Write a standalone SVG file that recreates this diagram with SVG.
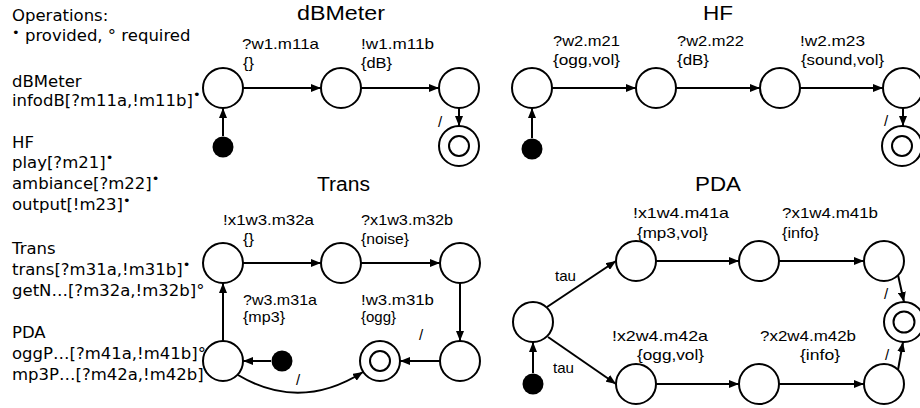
<svg xmlns="http://www.w3.org/2000/svg" width="920" height="408" viewBox="0 0 920 408">
  <style>
    .st { fill: #fff; stroke: #000; stroke-width: 2; }
    .init { fill: #000; stroke: none; }
    .edge { fill: none; stroke: #000; stroke-width: 2; marker-end: url(#arr); }
    .lbl { font-family: "Liberation Sans", Arial, sans-serif; font-size: 15px; fill: #000; }
    .title { font-family: "Liberation Sans", Arial, sans-serif; font-size: 20px; fill: #000; }
    .side { font-family: "DejaVu Sans", sans-serif; font-size: 16.5px; fill: #000; }
    .dot { font-size: 13px; }
  </style>
  <defs>
    <marker id="arr" markerUnits="userSpaceOnUse" markerWidth="10" markerHeight="8" refX="10" refY="4" orient="auto">
      <path d="M0,0 L10,4 L0,8 z" fill="#000"/>
    </marker>
  </defs>
  <rect width="920" height="408" fill="#fff"/>

  <!-- legend of operations per component -->
  <g id="legend" class="side">
    <text x="12" y="21">Operations:</text>
    <text x="12" y="41"><tspan class="dot" dy="-4">•</tspan><tspan dy="4"> provided, ° required</tspan></text>
    <text x="12" y="87">dBMeter</text>
    <text x="12" y="106">infodB[?m11a,!m11b]<tspan class="dot" dy="-7">•</tspan></text>
    <text x="12" y="148">HF</text>
    <text x="12" y="168">play[?m21]<tspan class="dot" dy="-6">•</tspan></text>
    <text x="12" y="189">ambiance[?m22]<tspan class="dot" dy="-6">•</tspan></text>
    <text x="12" y="210">output[!m23]<tspan class="dot" dy="-5">•</tspan></text>
    <text x="12" y="254">Trans</text>
    <text x="12" y="275">trans[?m31a,!m31b]<tspan class="dot" dy="-6">•</tspan></text>
    <text x="12" y="296">getN…[?m32a,!m32b]°</text>
    <text x="12" y="338">PDA</text>
    <text x="12" y="359">oggP…[?m41a,!m41b]°</text>
    <text x="12" y="380">mp3P…[?m42a,!m42b]°</text>
  </g>

  <!-- automaton titles -->
  <g id="titles" class="title">
    <text x="297" y="20" textLength="88" lengthAdjust="spacingAndGlyphs">dBMeter</text>
    <text x="703" y="20" textLength="30" lengthAdjust="spacingAndGlyphs">HF</text>
    <text x="317" y="191" textLength="53" lengthAdjust="spacingAndGlyphs">Trans</text>
    <text x="695" y="191" textLength="46" lengthAdjust="spacingAndGlyphs">PDA</text>
  </g>

  <!-- dBMeter states -->
  <g id="dbm-init"><circle class="init" cx="223" cy="147" r="10.5"/></g>
  <g id="dbm-s1"><circle class="st" cx="223" cy="88" r="20"/></g>
  <g id="dbm-s2"><circle class="st" cx="341" cy="88" r="20"/></g>
  <g id="dbm-s3"><circle class="st" cx="459" cy="88" r="20"/></g>
  <g id="dbm-final"><circle class="st" cx="459" cy="146" r="20"/><circle class="st" cx="459" cy="146" r="10"/></g>

  <!-- HF states -->
  <g id="hf-init"><circle class="init" cx="532" cy="149" r="10.5"/></g>
  <g id="hf-s1"><circle class="st" cx="532" cy="88" r="20"/></g>
  <g id="hf-s2"><circle class="st" cx="656" cy="88" r="20"/></g>
  <g id="hf-s3"><circle class="st" cx="780" cy="88" r="20"/></g>
  <g id="hf-s4"><circle class="st" cx="903" cy="88" r="20"/></g>
  <g id="hf-final"><circle class="st" cx="902" cy="146" r="20"/><circle class="st" cx="902" cy="146" r="10"/></g>

  <!-- Trans states -->
  <g id="tr-init"><circle class="init" cx="282" cy="361" r="10.5"/></g>
  <g id="tr-s0"><circle class="st" cx="223" cy="361" r="20"/></g>
  <g id="tr-s1"><circle class="st" cx="223" cy="263" r="20"/></g>
  <g id="tr-s2"><circle class="st" cx="341" cy="263" r="20"/></g>
  <g id="tr-s3"><circle class="st" cx="460" cy="263" r="20"/></g>
  <g id="tr-s4"><circle class="st" cx="460" cy="361" r="20"/></g>
  <g id="tr-final"><circle class="st" cx="380" cy="361" r="20"/><circle class="st" cx="380" cy="361" r="10"/></g>

  <!-- PDA states -->
  <g id="pda-init"><circle class="init" cx="533" cy="384" r="10.5"/></g>
  <g id="pda-s0"><circle class="st" cx="533" cy="322" r="20"/></g>
  <g id="pda-p1"><circle class="st" cx="636" cy="261" r="20"/></g>
  <g id="pda-p2"><circle class="st" cx="759" cy="261" r="20"/></g>
  <g id="pda-p3"><circle class="st" cx="884" cy="261" r="20"/></g>
  <g id="pda-q1"><circle class="st" cx="636" cy="384" r="20"/></g>
  <g id="pda-q2"><circle class="st" cx="759" cy="384" r="20"/></g>
  <g id="pda-q3"><circle class="st" cx="884" cy="384" r="20"/></g>
  <g id="pda-final"><circle class="st" cx="904" cy="322" r="20"/><circle class="st" cx="904" cy="322" r="10.5"/></g>

  <!-- transitions -->
  <g id="connectors">
    <path class="edge" d="M223,136 V108"/>
    <path class="edge" d="M243,88 H321"/>
    <path class="edge" d="M361,88 H439"/>
    <path class="edge" d="M459,108 V126"/>

    <path class="edge" d="M532,138 V108"/>
    <path class="edge" d="M552,88 H636"/>
    <path class="edge" d="M676,88 H760"/>
    <path class="edge" d="M800,88 H883"/>
    <path class="edge" d="M903,108 V126"/>

    <path class="edge" d="M271,361 H243"/>
    <path class="edge" d="M223,341 V283"/>
    <path class="edge" d="M243,263 H321"/>
    <path class="edge" d="M361,263 H440"/>
    <path class="edge" d="M460,283 V341"/>
    <path class="edge" d="M440,361 H400"/>
    <path class="edge" d="M238,375 Q300,412 363,372"/>

    <path class="edge" d="M533,373 V342"/>
    <path class="edge" d="M547,307 L616,261"/>
    <path class="edge" d="M548,337 L616,384"/>
    <path class="edge" d="M656,261 H739"/>
    <path class="edge" d="M779,261 H864"/>
    <path class="edge" d="M656,384 H739"/>
    <path class="edge" d="M779,384 H864"/>
    <path class="edge" d="M898,275 L904,302"/>
    <path class="edge" d="M898,370 L903,342"/>
  </g>

  <!-- transition labels -->
  <g id="edge-labels" class="lbl">
    <text x="242" y="49" textLength="77" lengthAdjust="spacingAndGlyphs">?w1.m11a</text>
    <text x="243" y="68" textLength="11" lengthAdjust="spacingAndGlyphs">{}</text>
    <text x="361" y="49" textLength="73" lengthAdjust="spacingAndGlyphs">!w1.m11b</text>
    <text x="361" y="68" textLength="31" lengthAdjust="spacingAndGlyphs">{dB}</text>
    <text x="438" y="127">/</text>

    <text x="553" y="46" textLength="67" lengthAdjust="spacingAndGlyphs">?w2.m21</text>
    <text x="553" y="65" textLength="67" lengthAdjust="spacingAndGlyphs">{ogg,vol}</text>
    <text x="677" y="46" textLength="67" lengthAdjust="spacingAndGlyphs">?w2.m22</text>
    <text x="677" y="65" textLength="32" lengthAdjust="spacingAndGlyphs">{dB}</text>
    <text x="800" y="46" textLength="65" lengthAdjust="spacingAndGlyphs">!w2.m23</text>
    <text x="801" y="65" textLength="83" lengthAdjust="spacingAndGlyphs">{sound,vol}</text>
    <text x="884" y="126">/</text>

    <text x="223" y="225" textLength="91" lengthAdjust="spacingAndGlyphs">!x1w3.m32a</text>
    <text x="243" y="244" textLength="11" lengthAdjust="spacingAndGlyphs">{}</text>
    <text x="361" y="225" textLength="92" lengthAdjust="spacingAndGlyphs">?x1w3.m32b</text>
    <text x="361" y="244" textLength="48" lengthAdjust="spacingAndGlyphs">{noise}</text>
    <text x="243" y="305" textLength="74" lengthAdjust="spacingAndGlyphs">?w3.m31a</text>
    <text x="243" y="322" textLength="42" lengthAdjust="spacingAndGlyphs">{mp3}</text>
    <text x="361" y="305" textLength="73" lengthAdjust="spacingAndGlyphs">!w3.m31b</text>
    <text x="361" y="322">{ogg}</text>
    <text x="419" y="340">/</text>
    <text x="296" y="385">/</text>

    <text x="555" y="281" textLength="21" lengthAdjust="spacingAndGlyphs">tau</text>
    <text x="553" y="373" textLength="21" lengthAdjust="spacingAndGlyphs">tau</text>
    <text x="633" y="218" textLength="96" lengthAdjust="spacingAndGlyphs">!x1w4.m41a</text>
    <text x="637" y="238" textLength="71" lengthAdjust="spacingAndGlyphs">{mp3,vol}</text>
    <text x="782" y="218" textLength="96" lengthAdjust="spacingAndGlyphs">?x1w4.m41b</text>
    <text x="782" y="238" textLength="37" lengthAdjust="spacingAndGlyphs">{info}</text>
    <text x="612" y="341" textLength="96" lengthAdjust="spacingAndGlyphs">!x2w4.m42a</text>
    <text x="637" y="360" textLength="67" lengthAdjust="spacingAndGlyphs">{ogg,vol}</text>
    <text x="760" y="341" textLength="96" lengthAdjust="spacingAndGlyphs">?x2w4.m42b</text>
    <text x="800" y="360" textLength="40" lengthAdjust="spacingAndGlyphs">{info}</text>
    <text x="884" y="299">/</text>
    <text x="885" y="360">/</text>
  </g>
</svg>
